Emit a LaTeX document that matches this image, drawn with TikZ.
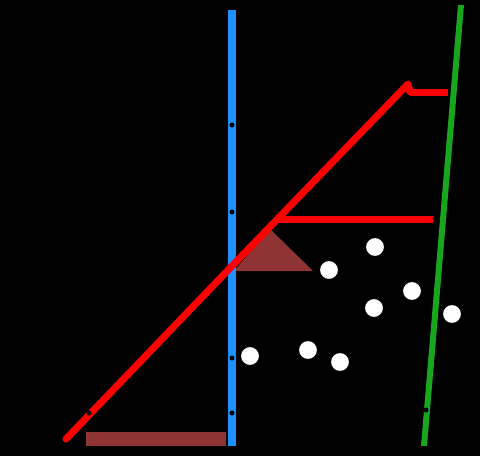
\documentclass[tikz,border=0pt]{standalone}
\begin{document}
\begin{tikzpicture}[x=1pt,y=-1pt,
  dotnode/.style={circle,fill=white,draw=black,line width=1pt,minimum size=19pt,inner sep=0pt},
  tickdot/.style={circle,fill=black,inner sep=0pt,minimum size=5pt},
  redline/.style={draw=red,line width=7pt,line cap=round,line join=round},
  shade/.style={fill={rgb,255:red,142;green,52;blue,52}}]
\fill[black] (0,0) rectangle (480,456);
\useasboundingbox (0,0) rectangle (480,456);
% coordinates
\coordinate (blueTop) at (232,10);
\coordinate (blueBot) at (232,446);
\coordinate (greenTop) at (461,5);
\coordinate (greenBot) at (424,446);
\coordinate (rStart) at (66,439);
\coordinate (rMid) at (232,266);
\coordinate (rPeak) at (408,84);
\coordinate (rCorner) at (410,92);
\coordinate (rEnd) at (448,92);
\coordinate (hA) at (278,219);
\coordinate (hB) at (433,219);
% shaded regions
\fill[shade] (234,271) -- (270,229) -- (313,271) -- cycle;
\fill[shade] (86,432) rectangle (226,446);
% axes
\draw[line width=8pt,draw={rgb,255:red,30;green,144;blue,255}] (blueTop) -- (blueBot);
\draw[line width=6pt,draw={rgb,255:red,25;green,165;blue,30}] (greenTop) -- (greenBot);
% red path
\draw[redline] (rStart) -- (rMid) -- (rPeak) -- (rCorner);
\draw[redline,line cap=butt] (rCorner) -- (rEnd);
\draw[redline,line cap=butt] (hA) -- (hB);
% ticks
\node[tickdot] (t1) at (232,125) {};
\node[tickdot] (t2) at (232,212) {};
\node[tickdot] (t3) at (232,358) {};
\node[tickdot] (t4) at (232,413) {};
\node[tickdot] (t5) at (426,410) {};
\node[tickdot] (t6) at (89,413) {};
% points
\node[dotnode] (p1) at (250,356) {};
\node[dotnode] (p2) at (329,270) {};
\node[dotnode] (p3) at (375,247) {};
\node[dotnode] (p4) at (412,291) {};
\node[dotnode] (p5) at (374,308) {};
\node[dotnode] (p6) at (308,350) {};
\node[dotnode] (p7) at (340,362) {};
\node[dotnode] (p8) at (452,314) {};
\end{tikzpicture}
\end{document}
